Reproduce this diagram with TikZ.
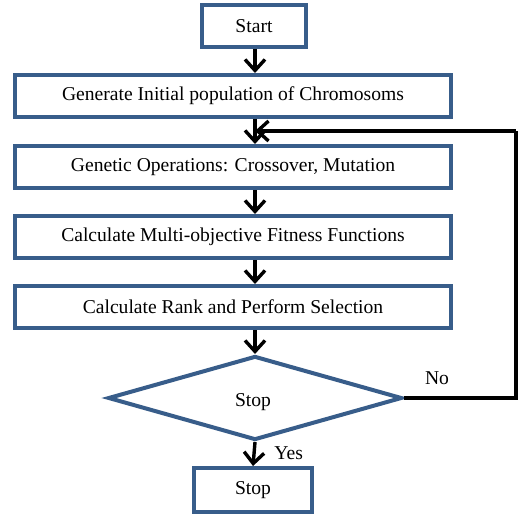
\documentclass[tikz,border=0pt]{standalone}
\usepackage{fontspec}
\setmainfont{Liberation Serif}
\usetikzlibrary{shapes.geometric,arrows.meta}

\definecolor{boxblue}{RGB}{56,93,138}

\tikzset{
  stepbox/.style={draw=boxblue,line width=2pt,fill=white,inner sep=0pt,
    minimum width=218pt,minimum height=21pt},
  endbox/.style={stepbox,minimum width=52pt},
  decision/.style={diamond,draw=boxblue,line width=2pt,inner sep=0pt,
    minimum width=147pt,minimum height=42pt},
  flow/.style={line width=1.7pt,-{Straight Barb[length=5.5pt,width=10pt]}}
}

\begin{document}
\begin{tikzpicture}[x=0.5pt,y=-0.5pt,font=\fontsize{9.8}{12}\selectfont]

\useasboundingbox (0,0) rectangle (518,518);

%====================================================
% Boxes
%====================================================
\node[endbox] (start) at (254,26) {Start};
\node[stepbox] (init) at (233,96) {Generate Initial population of Chromosoms};
\node[stepbox] (genop) at (233,167) {Genetic Operations: Crossover, Mutation};
\node[stepbox] (fitness) at (233,237) {Calculate Multi-objective Fitness Functions};
\node[stepbox] (rank) at (233,307) {Calculate Rank and Perform Selection};

% Decision
\node[decision] (decide) at (255,398) {};
\node (decidetext) at (253,402) {Stop};

\node[endbox,minimum width=59pt,minimum height=22pt] (stop) at (253,490) {Stop};

% vertical axis of the arrows
\coordinate (axis) at (255,0);
\coordinate (join) at (axis |- 0,131);
\coordinate (loopbottom) at (516,398);
\coordinate (looptop) at (516,131);

%====================================================
% Arrows
%====================================================
\draw[flow] (axis |- start.south) -- (axis |- init.north);
\draw[flow] (axis |- init.south) -- (axis |- genop.north);
\draw[flow] (axis |- genop.south) -- (axis |- fitness.north);
\draw[flow] (axis |- fitness.south) -- (axis |- rank.north);
\draw[flow] (axis |- rank.south) -- (decide.north);
\draw[flow] (decide.south) -- (stop.north)
  node[pos=0.45,right=6pt] (yes) {Yes};

% Loop back
\draw[line width=1.7pt] (decide.east) -- (loopbottom) -- (looptop);
\draw[flow] (looptop) -- (join);
\node (no) at (437,378) {No};

\end{tikzpicture}
\end{document}
